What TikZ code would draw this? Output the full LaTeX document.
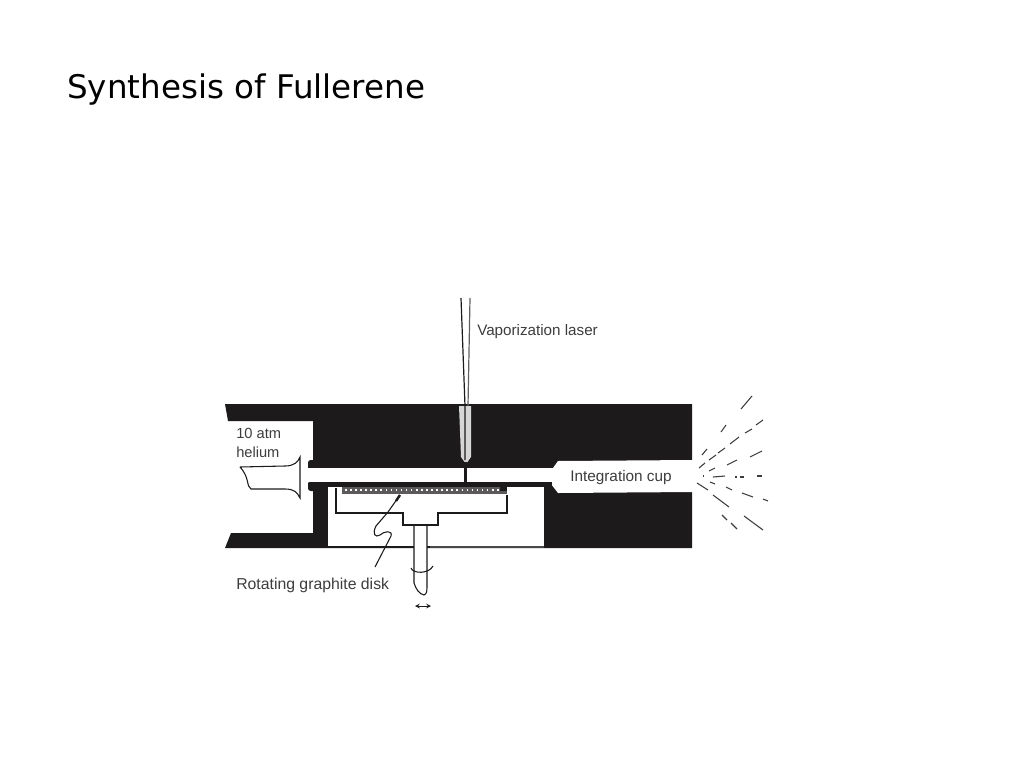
\documentclass[tikz,border=0pt]{standalone}
\usepackage{fontspec}
\setmainfont{Liberation Sans}
\newfontfamily\titlefont{DejaVu Sans}
\definecolor{ink}{HTML}{1C1A1B}
\tikzset{
 px/.style={x=0.75pt,y=-0.75pt},
 lbl/.style={inner sep=0pt,text=ink!85!white,anchor=west,align=left},
 ln/.style={draw=ink,line width=0.8pt},
 spray/.style={draw=ink!85!white,line width=0.8pt}
}
\begin{document}
\begin{tikzpicture}[px]
\useasboundingbox (0,0) rectangle (1024,768);
\node[inner sep=0pt,anchor=west,font=\titlefont\fontsize{24.4}{28}\selectfont,text=black] (title) at (67,90) {Synthesis of Fullerene};
% block
\fill[ink] (225,404) -- (692,404) -- (692,548) -- (225,548) -- (231,533) -- (313,533) -- (313,421) -- (228,421) -- cycle;
% nubs either side of the channel mouth
\fill[ink,rounded corners=2pt] (308,460) rectangle (316,470);
\fill[ink,rounded corners=2pt] (308,481) rectangle (328,491);
% channel and cup, open at the right
\fill[white] (307,468) -- (553,468) -- (558,461) -- (693,460) -- (693,492) -- (558,493) -- (551,484) -- (307,482) -- cycle;
% cavity
\fill[white] (328,487) -- (544,487) -- (544,546) -- (328,546) -- cycle;
\draw[ink,line width=2.6pt] (309,484) -- (552,484);
% laser port
\fill[white!82!ink] (459,406) -- (471,406) -- (471,457) -- (466,464) -- (461,457) -- cycle;
\draw[ink,line width=0.9pt] (461,298) -- (465,406) -- (465,460);
\draw[ink!70!white,line width=0.9pt] (470,298) -- (468,406);
\draw[ink,line width=2.4pt] (465.5,462) -- (465.5,484);
% disk
\fill[ink!72!white] (342,487) rectangle (507,493.5);
\draw[white,line width=1.4pt,dash pattern=on 1.2pt off 2.6pt] (345,490) -- (499,490);
\fill[ink] (500,485) rectangle (507,491);
% holder
\draw[ln] (336,488) -- (336,513) -- (403,513) -- (403,525) -- (438,525) -- (438,513) -- (507,513) -- (507,495);
% shaft
\fill[white] (414,526) rectangle (427,550);
\draw[ln] (414,526) -- (414,583) .. controls (416,589) and (419,594) .. (424,595) .. controls (427,594) and (427,590) .. (427,588) -- (427,526);
\draw[ln] (411,568) .. controls (413,574) and (429,574) .. (433,566);
% base line
\draw[ink,line width=1.1pt] (328,547) -- (412,547);
\draw[ink!80!white,line width=1.1pt] (430,547) -- (544,547);
% arrows
\draw[ln,<->,>=stealth,line width=0.6pt] (415,606) -- (431,606);
% leader
\coordinate (leadA) at (375,567);
\coordinate (leadB) at (400,495);
\draw[ln] (leadA) -- (391,536) .. controls (393,530) and (384,531) .. (380,535) .. controls (375,538) and (372,534) .. (376,526) -- (388,512) -- (leadB);
\draw[ink,line width=1.8pt] (396,501) -- (400,495);
% nozzle
\draw[ln] (240,467) -- (285,466) .. controls (294,466) and (298,462) .. (300,457) -- (300,498) .. controls (297,492) and (294,489) .. (285,489) -- (251,489) .. controls (246,486) and (250,478) .. (240,467);
% labels
\node[lbl,font=\fontsize{11}{14.5}\selectfont] (l1) at (236,443) {10 atm\\helium};
\node[lbl,font=\fontsize{11.4}{14}\selectfont] (l2) at (477,332) {Vaporization laser};
\node[lbl,font=\fontsize{11.5}{14}\selectfont] (l3) at (570,478) {Integration cup};
\node[lbl,font=\fontsize{11.85}{14}\selectfont] (l4) at (236,585) {Rotating graphite disk};
% spray
\foreach \a/\b/\c/\d in {752/396/741/409,726/425/721/432,763/420/756/425,752/429/745/433,739/437/730/444,725/448/718/453,716/455/709/460,707/449/702/455,705/463/699/468,762/451/750/457,737/460/727/465,715/468/709/471,725/476/713/477,703/476/704/476,735/477/737/477,740/477/744/477,757/476/762/476,697/483/708/490,710/482/715/484,726/487/732/490,742/493/753/497,763/499/768/501,713/495/729/507,722/515/727/520,731/523/737/529,744/516/763/530}
  \draw[spray] (\a,\b) -- (\c,\d);
\end{tikzpicture}
\end{document}
